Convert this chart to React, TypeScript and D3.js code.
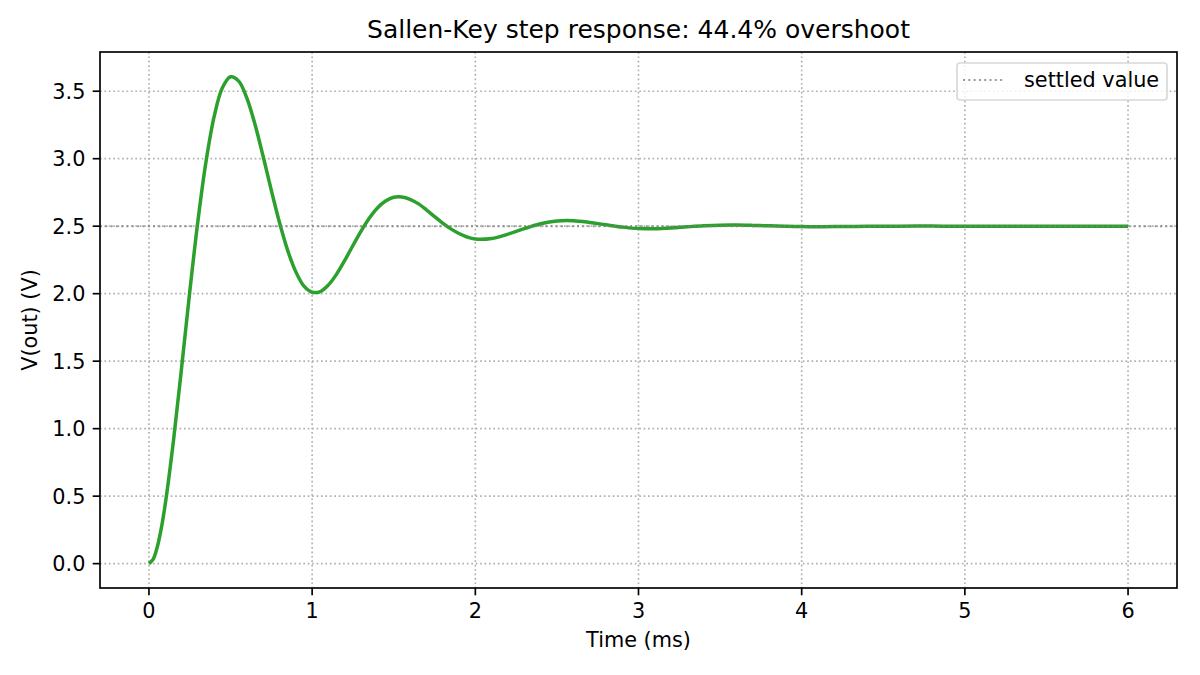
import React from "react";
import * as d3 from "d3";

const timeMs = [0, 0.025, 0.05, 0.075, 0.1, 0.15, 0.2, 0.25, 0.3, 0.35, 0.4, 0.45, 0.5, 0.55, 0.6, 0.65, 0.7, 0.75, 0.8, 0.85, 0.9, 0.95, 1.0, 1.05, 1.1, 1.15, 1.2, 1.25, 1.3, 1.35, 1.4, 1.45, 1.5, 1.55, 1.6, 1.65, 1.7, 1.75, 1.8, 1.85, 1.9, 1.95, 2.0, 2.1, 2.2, 2.3, 2.4, 2.5, 2.6, 2.7, 2.8, 2.9, 3.0, 3.1, 3.2, 3.3, 3.4, 3.5, 3.6, 3.7, 3.8, 3.9, 4.0, 4.1, 4.2, 4.4, 4.6, 4.8, 5.0, 5.5, 6.0];
const vout = [0, 0.031, 0.119, 0.258, 0.442, 0.909, 1.451, 2.014, 2.539, 2.981, 3.315, 3.525, 3.607, 3.575, 3.449, 3.253, 3.016, 2.765, 2.527, 2.321, 2.162, 2.056, 2.011, 2.016, 2.065, 2.145, 2.247, 2.357, 2.464, 2.559, 2.635, 2.686, 2.714, 2.716, 2.699, 2.667, 2.621, 2.571, 2.523, 2.48, 2.446, 2.42, 2.405, 2.409, 2.441, 2.482, 2.518, 2.539, 2.541, 2.528, 2.51, 2.493, 2.482, 2.4815, 2.487, 2.4955, 2.503, 2.5076, 2.5083, 2.506, 2.5024, 2.499, 2.4968, 2.4963, 2.4972, 2.499, 2.5003, 2.5005, 2.5, 2.5, 2.5];
const settledValue = 2.5;
const xTicks = [0, 1, 2, 3, 4, 5, 6];
const yTicks = [0, 0.5, 1.0, 1.5, 2.0, 2.5, 3.0, 3.5];

const W = 1200, H = 675;
const L = 100, R = 1177, T = 52, B = 588;
const FONT = "DejaVu Sans, sans-serif";
const FS = 20.8;

export default function App() {
  const x = d3.scaleLinear().domain([-0.3, 6.3]).range([L, R]);
  const y = d3.scaleLinear().domain([-0.1805, 3.7905]).range([B, T]);
  const pts: [number, number][] = timeMs.map((t, i) => [t, vout[i]]);
  const line = d3.line<[number, number]>().x(d => x(d[0])).y(d => y(d[1])).curve(d3.curveCatmullRom.alpha(0.5));
  return (
    <svg width={W} height={H} style={{ position: "absolute", left: 0, top: 0, background: "#fff" }} fontFamily={FONT}>
      <rect x={0} y={0} width={W} height={H} fill="#fff" />
      <g>
        {xTicks.map(t => (
          <line key={"gx" + t} x1={x(t)} x2={x(t)} y1={T} y2={B} stroke="#b0b0b0" strokeWidth={1.67} strokeDasharray="1.67,2.75" />
        ))}
        {yTicks.map(t => (
          <line key={"gy" + t} x1={L} x2={R} y1={y(t)} y2={y(t)} stroke="#b0b0b0" strokeWidth={1.67} strokeDasharray="1.67,2.75" />
        ))}
      </g>
      <path d={line(pts) || ""} fill="none" stroke="#2ca02c" strokeWidth={3.5} strokeLinejoin="round" strokeLinecap="butt" />
      <line x1={L} x2={R} y1={y(settledValue)} y2={y(settledValue)} stroke="#808080" strokeOpacity={0.8} strokeWidth={2} strokeDasharray="2,3.3" />
      <rect x={L} y={T} width={R - L} height={B - T} fill="none" stroke="#000" strokeWidth={1.67} />
      {xTicks.map(t => (
        <g key={"xt" + t}>
          <line x1={x(t)} x2={x(t)} y1={B} y2={B + 7.3} stroke="#000" strokeWidth={1.67} />
          <text x={x(t)} y={618} fontSize={FS} textAnchor="middle" fill="#000">{String(t)}</text>
        </g>
      ))}
      {yTicks.map(t => (
        <g key={"yt" + t}>
          <line x1={L - 7.3} x2={L} y1={y(t)} y2={y(t)} stroke="#000" strokeWidth={1.67} />
          <text x={L - 14.6} y={y(t) + 7.5} fontSize={FS} textAnchor="end" fill="#000">{t.toFixed(1)}</text>
        </g>
      ))}
      <text x={(L + R) / 2} y={647} fontSize={FS} textAnchor="middle" fill="#000">Time (ms)</text>
      <text transform={`translate(37, ${(T + B) / 2}) rotate(-90)`} fontSize={FS} textAnchor="middle" fill="#000">V(out) (V)</text>
      <text x={(L + R) / 2} y={37.5} fontSize={25} textAnchor="middle" fill="#000">Sallen-Key step response: 44.4% overshoot</text>
      <g>
        <rect x={957} y={63} width={210} height={37} rx={3} fill="#fff" fillOpacity={0.8} stroke="#d8d8d8" strokeWidth={1.67} />
        <line x1={963} x2={1004} y1={80} y2={80} stroke="#808080" strokeOpacity={0.8} strokeWidth={2} strokeDasharray="2,3.3" />
        <text x={1024} y={87} fontSize={FS} fill="#000">settled value</text>
      </g>
    </svg>
  );
}
